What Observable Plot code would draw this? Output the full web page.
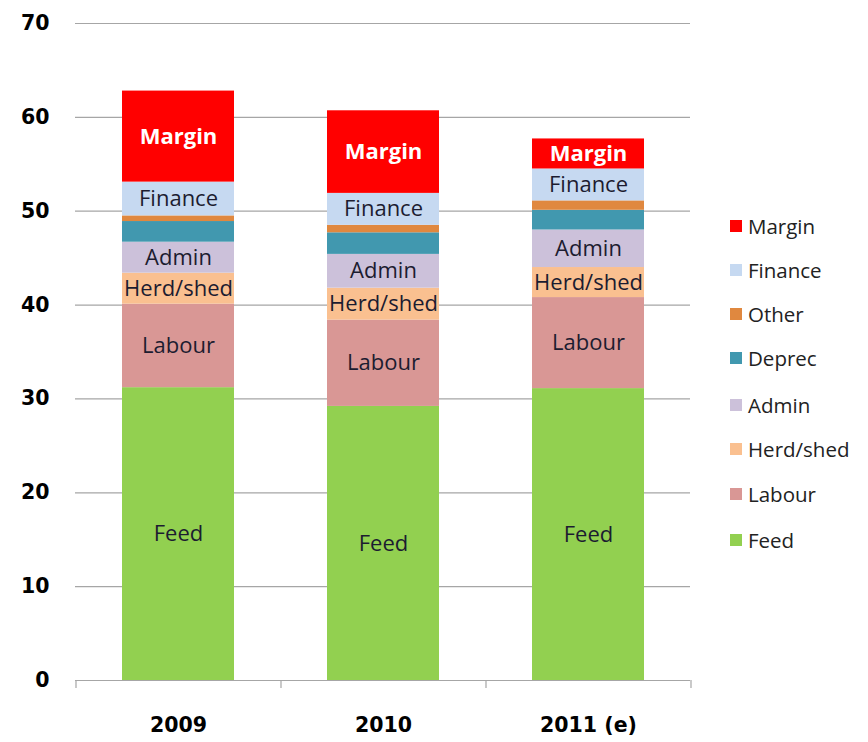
<!DOCTYPE html>
<html>
<head>
<meta charset="utf-8">
<script src="https://cdn.jsdelivr.net/npm/d3@7"></script>
<script src="https://cdn.jsdelivr.net/npm/@observablehq/plot@0.6"></script>
<style>
  html, body { margin: 0; padding: 0; background: #fff; }
  #wrap { position: relative; width: 868px; height: 742px; }
  #legend { position: absolute; left: 730px; top: 0; font-family: "Open Sans", Lato, sans-serif; font-size: 20.5px; color: #222; }
  .item { position: absolute; left: 0; white-space: nowrap; display: flex; align-items: center; height: 24px; }
  .sw { width: 12px; height: 12px; margin-right: 6px; display: inline-block; }
</style>
</head>
<body>
<div id="wrap"><div id="legend"></div></div>
<script>
const years = ["2009", "2010", "2011 (e)"];
const categories = ["Feed", "Labour", "Herd/shed", "Admin", "Deprec", "Other", "Finance", "Margin"];
const colors = ["#92d050", "#d99795", "#fac090", "#ccc1da", "#4198af", "#e0883f", "#c6d9f1", "#ff0000"];
const feed     = [31.2, 29.2, 31.1];
const labour   = [8.9, 9.2, 9.7];
const herdshed = [3.3, 3.4, 3.2];
const admin    = [3.3, 3.6, 4.0];
const deprec   = [2.2, 2.3, 2.1];
const other    = [0.6, 0.8, 1.0];
const finance  = [3.6, 3.4, 3.4];
const margin   = [9.7, 8.8, 3.2];
const yTicks = [0, 10, 20, 30, 40, 50, 60, 70];
const unlabeled = ["Deprec", "Other"];

const series = [feed, labour, herdshed, admin, deprec, other, finance, margin];
const rows = [];
categories.forEach((c, i) => years.forEach((y, j) => rows.push({year: y, cat: c, value: series[i][j]})));

const stackOpts = {x: "year", y: "value", z: "cat", order: categories};
const labelFont = "'Open Sans', Lato, sans-serif";

const plot = Plot.plot({
  width: 868,
  height: 742,
  marginLeft: 75,
  marginRight: 178,
  marginTop: 23,
  marginBottom: 62,
  x: {domain: years, paddingInner: 0.454, paddingOuter: 0.227, label: null},
  y: {domain: [0, 70], label: null},
  color: {domain: categories, range: colors},
  style: {background: "#fff"},
  marks: [
    Plot.ruleY(yTicks.filter(d => d > 0), {stroke: "#a6a6a6", strokeWidth: 1.2}),
    Plot.barY(rows, Plot.stackY({...stackOpts, fill: "cat"})),
    Plot.text(rows, Plot.stackY({...stackOpts, text: d => (d.cat === "Margin" || unlabeled.includes(d.cat)) ? "" : d.cat, fill: "#1c1c30", fontSize: 22, fontFamily: labelFont})),
    Plot.text(rows, Plot.stackY({...stackOpts, text: d => d.cat === "Margin" ? d.cat : "", fill: "white", fontSize: 22, fontWeight: "bold", fontFamily: labelFont})),
    Plot.ruleY([0], {stroke: "#a6a6a6", strokeWidth: 1.2}),
    Plot.ruleX(years, {x: d => d, y1: 0, y2: 0, dx: -102.5, insetBottom: -8, stroke: "#a6a6a6", strokeWidth: 1.2}),
    Plot.ruleX(years.slice(-1), {x: d => d, y1: 0, y2: 0, dx: 102.5, insetBottom: -8, stroke: "#a6a6a6", strokeWidth: 1.2}),
    Plot.axisY({ticks: yTicks, tickSize: 0, tickPadding: 26, fontSize: 20.5, fontWeight: "bold", fontFamily: "'DejaVu Sans', sans-serif", fill: "#000", label: null}),
    Plot.axisX({tickSize: 0, tickPadding: 37, fontSize: 20.5, fontWeight: "bold", fontFamily: "'DejaVu Sans', sans-serif", fill: "#000", label: null})
  ]
});
document.getElementById("wrap").prepend(plot);

const legend = document.getElementById("legend");
const rowY = [540, 494, 449, 405, 358, 314, 270, 226];
categories.forEach((c, i) => {
  const it = document.createElement("div");
  it.className = "item";
  it.style.top = (rowY[i] - 12) + "px";
  it.innerHTML = `<span class="sw" style="background:${colors[i]}"></span>${c}`;
  legend.appendChild(it);
});
</script>
</body>
</html>
